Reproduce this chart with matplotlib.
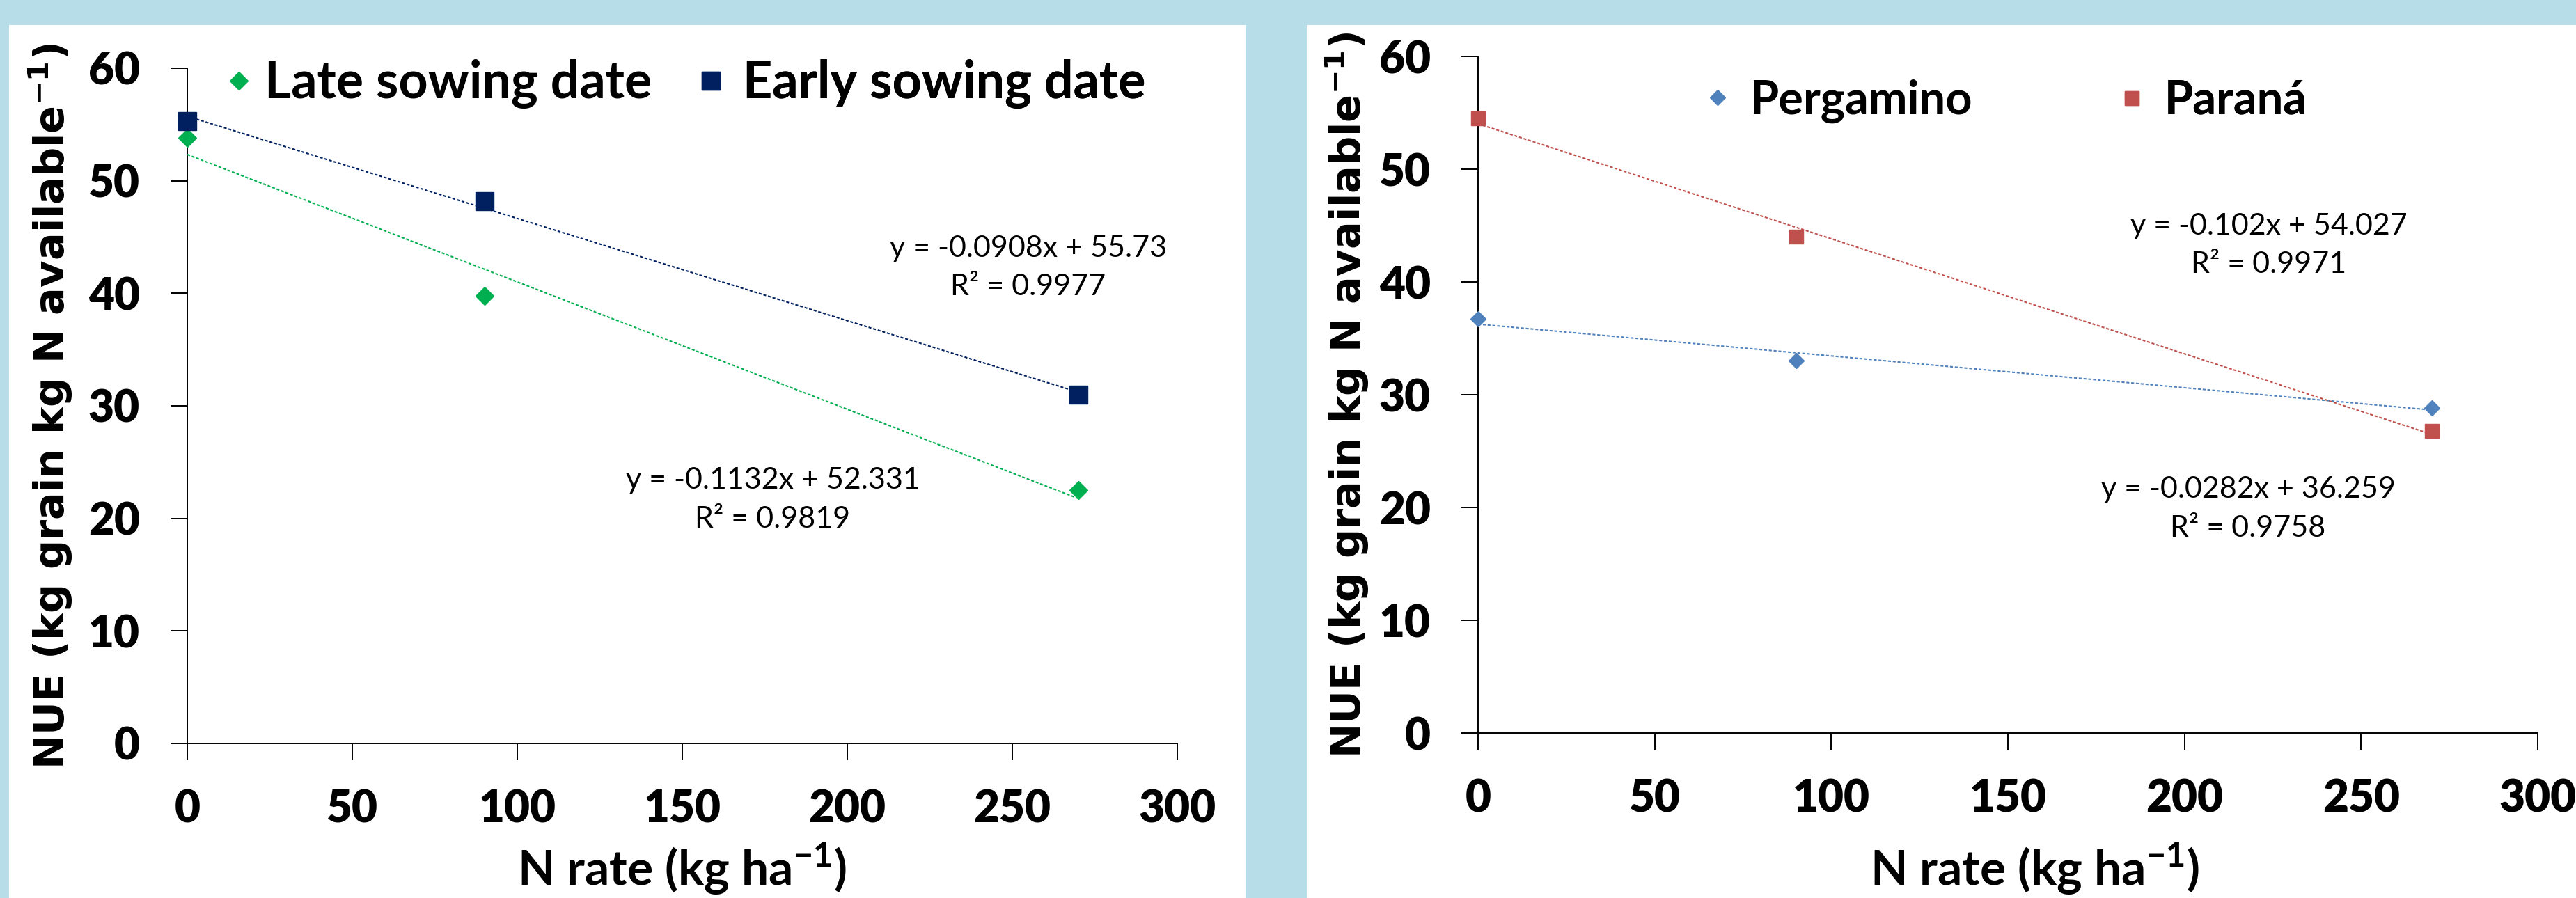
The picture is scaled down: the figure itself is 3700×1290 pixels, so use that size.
import numpy as np
import matplotlib
matplotlib.use("Agg")
import matplotlib.pyplot as plt
from matplotlib.patches import Rectangle

plt.rcParams['font.family'] = ['Lato', 'DejaVu Sans']

# data
n_rate = [0, 90, 270]
late_nue = [53.8, 39.8, 22.5]
early_nue = [55.3, 48.2, 31.0]
pergamino_nue = [36.7, 33.0, 28.8]
parana_nue = [54.5, 44.0, 26.8]

# trendline equations printed on the chart: slope, intercept, r2
late_fit = [-0.1132, 52.331, 0.9819]
early_fit = [-0.0908, 55.73, 0.9977]
pergamino_fit = [-0.0282, 36.259, 0.9758]
parana_fit = [-0.102, 54.027, 0.9971]

x_ticks = [0, 50, 100, 150, 200, 250, 300]
y_ticks = [0, 10, 20, 30, 40, 50, 60]

green = '#00B050'
navy = '#002060'
blue = '#4F81BD'
red = '#C0504D'
bg = '#B7DEE8'

W, H = 3700, 1290
fig = plt.figure(figsize=(W / 100, H / 100), dpi=100, facecolor=bg)
for x0, x1 in [(13, 1789), (1877, 3700)]:
    fig.patches.append(Rectangle((x0 / W, 0), (x1 - x0) / W, 1254 / H,
                                 transform=fig.transFigure, facecolor='white',
                                 edgecolor='none', zorder=-5))

ax1 = fig.add_axes([269 / W, 222 / H, 1422 / W, 970 / H])
ax2 = fig.add_axes([2123 / W, 237 / H, 1522 / W, 972 / H])


def style_axes(ax):
    ax.set_facecolor('none')
    ax.spines['top'].set_visible(False)
    ax.spines['right'].set_visible(False)
    for s in ['left', 'bottom']:
        ax.spines[s].set_linewidth(1.4)
    ax.set_xlim(0, 300)
    ax.set_ylim(0, 60)
    ax.set_xticks(x_ticks)
    ax.set_yticks(y_ticks)
    ax.tick_params(axis='both', length=17, width=1.4, labelsize=46)
    ax.tick_params(axis='y', pad=32)
    ax.tick_params(axis='x', pad=30)
    for t in ax.get_xticklabels() + ax.get_yticklabels():
        t.set_fontweight('heavy')
    ax.set_xlabel(r'N rate (kg ha$^{\mathdefault{-1}}$)', fontsize=50,
                  fontweight='bold', va='baseline')
    ax.set_ylabel(r'NUE (kg grain kg N available$^{\mathdefault{-1}}$)',
                  family='DejaVu Sans', fontweight='bold', fontsize=42.5, va='center')


def draw_series(ax, y, fit, color, marker, ms):
    pts, = ax.plot(n_rate, y, ls='none', marker=marker, ms=ms, color=color,
                   mec=color, clip_on=False, zorder=4)
    xs = np.array([min(n_rate), max(n_rate)])
    ax.plot(xs, fit[0] * xs + fit[1], color=color, lw=1.5,
            ls=(0, (2, 1.3)), zorder=3)
    return pts


def eq_text(ax, fit, x, y):
    ax.text(x, y, f'y = {fit[0]}x + {fit[1]}\nR\u00b2 = {fit[2]}',
            transform=ax.transAxes, ha='center', va='center',
            fontsize=31, linespacing=1.55, multialignment='center')


def add_key(ax, handle, label, x_px, y_px, pad, size):
    leg = ax.legend([handle], [label], loc='center left',
                    bbox_to_anchor=(x_px / W, 1 - y_px / H),
                    bbox_transform=fig.transFigure, frameon=False,
                    borderpad=0, borderaxespad=0, handlelength=0.4,
                    handletextpad=pad, numpoints=1,
                    prop={'weight': 'bold', 'size': size})
    ax.add_artist(leg)


for ax in (ax1, ax2):
    style_axes(ax)

# left panel: sowing date
h_late = draw_series(ax1, late_nue, late_fit, green, 'D', 13.2)
h_early = draw_series(ax1, early_nue, early_fit, navy, 's', 18.7)
eq_text(ax1, early_fit, 0.8495, 0.705)
eq_text(ax1, late_fit, 0.5914, 0.3608)
ax1.xaxis.set_label_coords(0.5, -0.2103)
ax1.yaxis.set_label_coords(-0.1378, 0.5)
add_key(ax1, h_late, 'Late sowing date', 328, 121, 0.31, 53)
add_key(ax1, h_early, 'Early sowing date', 1006, 121, 0.43, 53)

# right panel: location
h_perg = draw_series(ax2, pergamino_nue, pergamino_fit, blue, 'D', 10.7)
h_para = draw_series(ax2, parana_nue, parana_fit, red, 's', 15)
eq_text(ax2, parana_fit, 0.7464, 0.7202)
eq_text(ax2, pergamino_fit, 0.7267, 0.3313)
ax2.xaxis.set_label_coords(0.5256, -0.2253)
ax2.yaxis.set_label_coords(-0.1235, 0.5)
add_key(ax2, h_perg, 'Pergamino', 2454, 145, 0.49, 48)
add_key(ax2, h_para, 'Paraná', 3049, 145, 0.49, 48)

fig.savefig('out.png', dpi=100, facecolor=bg)
